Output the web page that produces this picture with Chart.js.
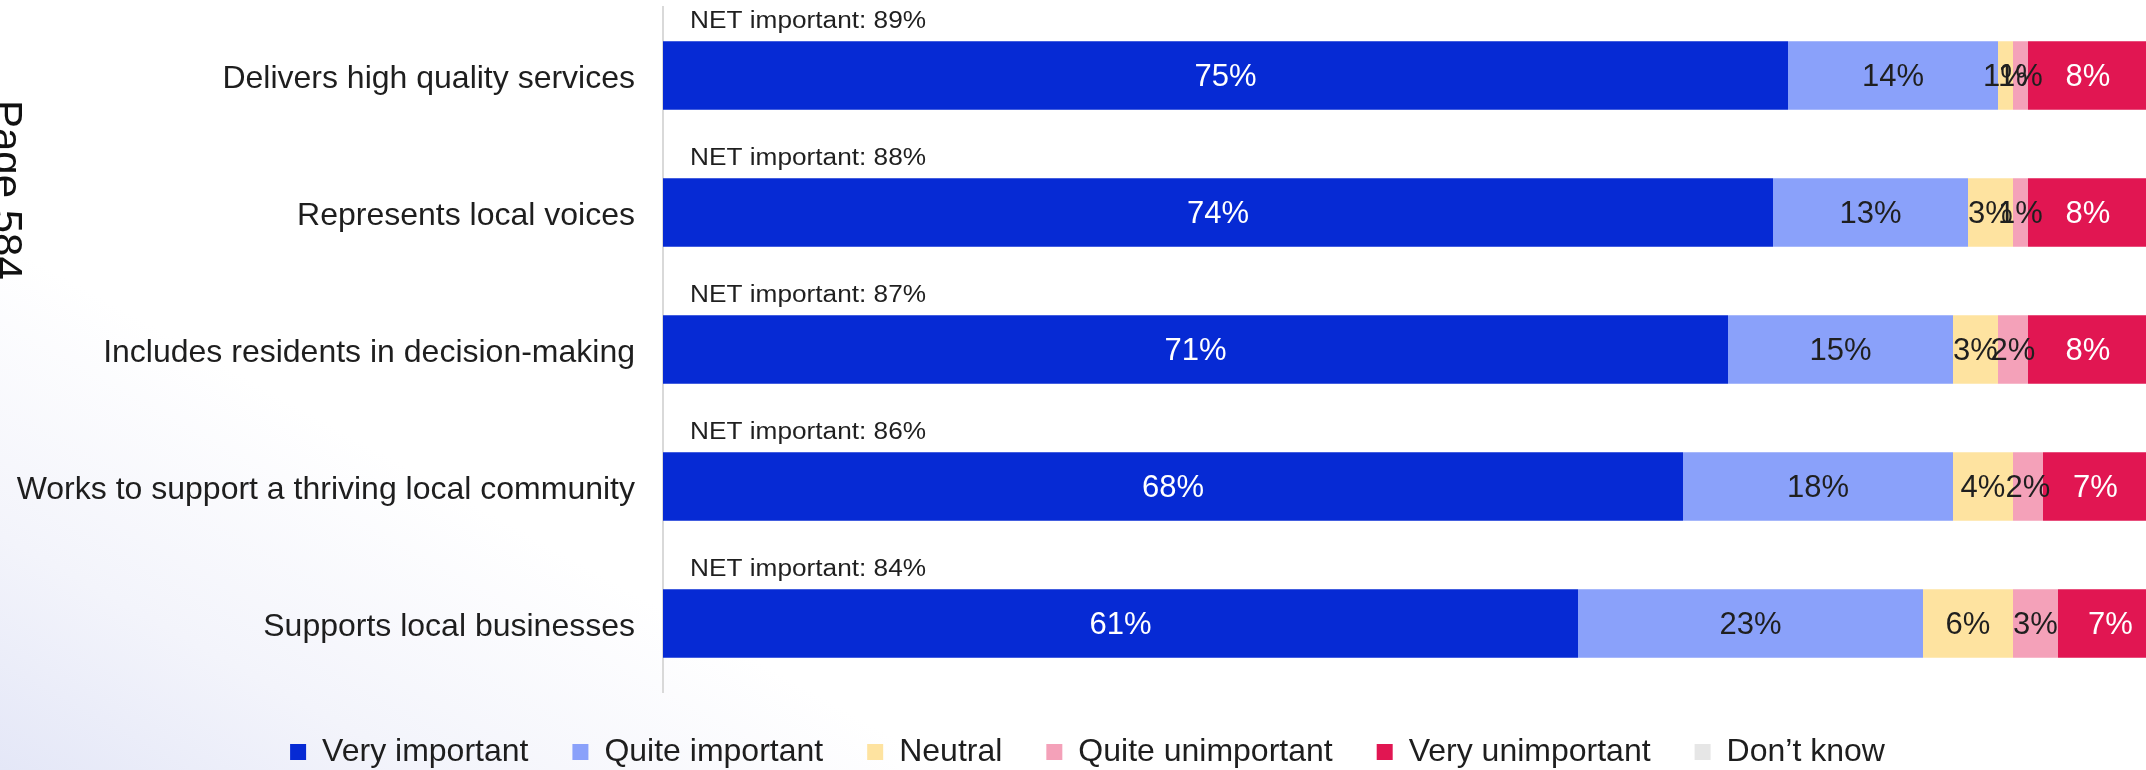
<!DOCTYPE html>
<html>
<head>
<meta charset="utf-8">
<title>Importance of council priorities</title>
<script src="https://cdn.jsdelivr.net/npm/chart.js@4.4.1/dist/chart.umd.min.js"></script>
<style>
    html, body { margin: 0; padding: 0; width: 2146px; height: 770px; overflow: hidden; }
    body {
        position: relative;
        background: linear-gradient(29deg, #e4e7f7 0%, #f3f4fb 12%, #ffffff 27%);
        font-family: "Liberation Sans", Arial, sans-serif;
    }
    #wrap { position: absolute; left: 0; top: 0; width: 2163px; height: 770px; }
    #page-no {
        position: absolute; left: 28px; top: 100px;
        font-size: 42px; line-height: 42px; color: #111;
        transform: rotate(90deg); transform-origin: 0 0; white-space: nowrap;
    }
</style>
</head>
<body>
<div id="wrap"><canvas id="chart"></canvas></div>
<div id="page-no">Page 584</div>
<script>
// ── Data ─────────────────────────────────────────────────────
const statements = [
    "Delivers high quality services",
    "Represents local voices",
    "Includes residents in decision-making",
    "Works to support a thriving local community",
    "Supports local businesses"
];
const veryImportant    = [75, 74, 71, 68, 61];
const quiteImportant   = [14, 13, 15, 18, 23];
const neutral          = [1, 3, 3, 4, 6];
const quiteUnimportant = [1, 1, 2, 2, 3];
const veryUnimportant  = [8, 8, 8, 7, 7];
const dontKnow         = [1, 1, 1, 1, 0];
const netImportant     = [89, 88, 87, 86, 84];

const seriesNames  = ["Very important", "Quite important", "Neutral", "Quite unimportant", "Very unimportant", "Don\u2019t know"];
const seriesValues = [veryImportant, quiteImportant, neutral, quiteUnimportant, veryUnimportant, dontKnow];
const seriesColors = ["#062ad4", "#8aa1fa", "#fee3a0", "#f4a1b9", "#e11652", "#e6e6e6"];
// text colour for the % inside each segment (null = no label)
const labelColors  = ["#ffffff", "#1f1f1f", "#1f1f1f", "#1f1f1f", "#ffffff", null];

const fontFamily = "'Liberation Sans', Arial, sans-serif";
Chart.defaults.font.family = fontFamily;

// ── Labels: % inside segments, NET line above each bar ───────
const segmentLabels = {
    id: "segmentLabels",
    afterDatasetsDraw(chart) {
        const ctx = chart.ctx;
        ctx.save();
        ctx.font = "31px " + fontFamily;
        ctx.textAlign = "center";
        ctx.textBaseline = "middle";
        chart.data.datasets.forEach((ds, i) => {
            if (!labelColors[i]) return;
            chart.getDatasetMeta(i).data.forEach((bar, j) => {
                const v = ds.data[j];
                if (!v) return;
                ctx.fillStyle = labelColors[i];
                ctx.fillText(v + "%", (bar.x + bar.base) / 2, bar.y + 2);
            });
        });

        ctx.font = "23px " + fontFamily;
        ctx.textAlign = "left";
        ctx.textBaseline = "alphabetic";
        ctx.fillStyle = "#1f1f1f";
        chart.getDatasetMeta(0).data.forEach((bar, j) => {
            const top = bar.y - bar.height / 2;
            ctx.save();
            ctx.translate(chart.chartArea.left + 27, top - 13);
            ctx.scale(1.14, 1);
            ctx.fillText("NET important: " + netImportant[j] + "%", 0, 0);
            ctx.restore();
        });
        ctx.restore();
    }
};

// ── Chart ────────────────────────────────────────────────────
new Chart(document.getElementById("chart"), {
    type: "bar",
    data: {
        labels: statements,
        datasets: seriesValues.map((vals, i) => ({
            label: seriesNames[i],
            data: vals,
            backgroundColor: seriesColors[i],
            borderWidth: 0,
            barPercentage: 0.5,
            categoryPercentage: 1
        }))
    },
    options: {
        indexAxis: "y",
        responsive: true,
        maintainAspectRatio: false,
        animation: false,
        layout: { padding: { left: 12, top: 7, right: 0, bottom: 0 } },
        scales: {
            x: { stacked: true, min: 0, max: 100, display: false },
            y: {
                stacked: true,
                grid: { display: false, drawTicks: false },
                border: { display: true, color: "#d9d9d9", width: 2 },
                ticks: { color: "#1e1e1e", font: { size: 32 }, padding: 28, labelOffset: 4 },
                afterFit(scale) {
                    // fixed label column; category labels never overhang the bands
                    scale.width = 651;
                    scale.paddingTop = 0;
                    scale.paddingBottom = 0;
                }
            }
        },
        plugins: {
            legend: {
                position: "bottom",
                maxHeight: 78,
                labels: {
                    color: "#1e1e1e",
                    font: { size: 32 },
                    boxWidth: 16,
                    boxHeight: 16,
                    padding: 44
                }
            },
            tooltip: { enabled: false }
        }
    },
    plugins: [segmentLabels]
});
</script>
</body>
</html>
